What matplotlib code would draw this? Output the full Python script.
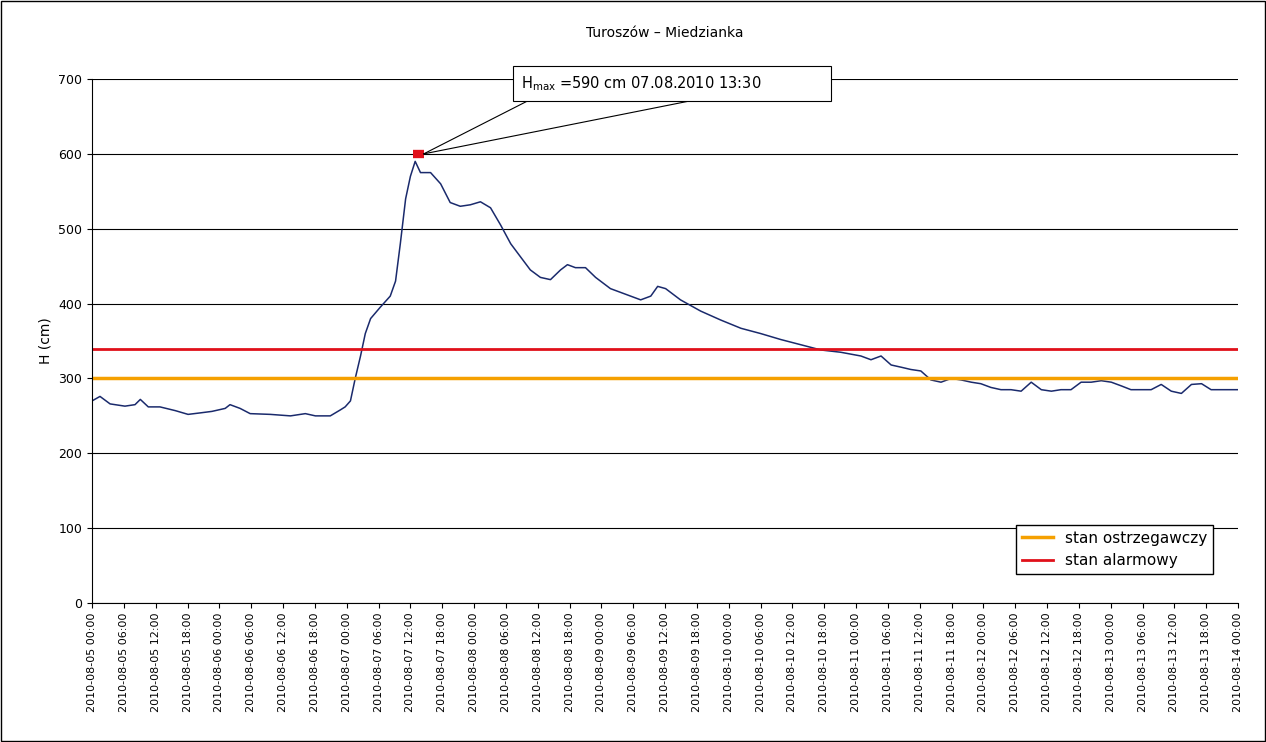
import numpy as np
import matplotlib.pyplot as plt
from datetime import datetime, timedelta

# hours since 2010-08-05 00:00 and water level H (cm)
hours = [0, 1.5, 3.4, 6.2, 8.1, 9.1, 10.6, 12.8, 15.7, 18.1, 20.4, 22.6, 25.1, 26.0, 27.9,
         29.8, 33.6, 37.4, 40.2, 42.1, 44.9, 46.8, 47.7, 48.7, 49.6, 50.6, 51.5, 52.5, 54.3,
         56.2, 57.2, 58.1, 59.1, 60.0, 60.9, 61.9, 63.8, 65.7, 67.5, 69.4, 71.3, 73.2, 75.1,
         77.0, 78.9, 80.8, 82.6, 84.5, 86.4, 88.3, 89.6, 91.1, 93.0, 94.9, 97.7, 99.6, 101.5,
         103.4, 105.3, 106.6, 108.1, 110.9, 114.7, 118.5, 122.3, 126.0, 129.8, 133.6, 137.4,
         141.1, 144.9, 146.8, 148.7, 150.6, 152.5, 154.3, 156.2, 158.1, 160.0, 161.9, 163.8,
         165.7, 167.5, 169.4, 171.3, 173.2, 175.1, 177.0, 178.9, 180.8, 182.6, 184.5, 186.4,
         188.3, 190.2, 192.1, 194.0, 195.8, 197.7, 199.6, 201.5, 203.4, 205.3, 207.2, 209.1,
         210.9, 212.8, 216]
level = [270, 276, 266, 263, 265, 272, 262, 262, 257, 252, 254, 256, 260, 265, 260,
         253, 252, 250, 253, 250, 250, 258, 262, 270, 300, 330, 360, 380, 395,
         410, 430, 480, 540, 570, 590, 575, 575, 560, 535, 530, 532, 536, 528,
         505, 480, 462, 445, 435, 432, 445, 452, 448, 448, 435, 420, 415, 410,
         405, 410, 423, 420, 405, 390, 378, 367, 360, 352, 345, 338,
         335, 330, 325, 330, 318, 315, 312, 310, 298, 295, 300, 298,
         295, 293, 288, 285, 285, 283, 295, 285, 283, 285, 285, 295,
         295, 297, 295, 290, 285, 285, 285, 292, 283, 280, 292, 293,
         285, 285, 285]
warn_level = 300
alarm_level = 340
peak_hour = 61.5
peak_value = 600

start = datetime(2010, 8, 5)
tick_hours = list(range(0, 217, 6))
tick_labels = [(start + timedelta(hours=h)).strftime('%Y-%m-%d %H:%M') for h in tick_hours]

fig = plt.figure(figsize=(12.66, 7.42), dpi=100)
fig.patches.append(plt.Rectangle((0.001, 0.001), 0.998, 0.998, transform=fig.transFigure,
                                 fill=False, edgecolor='black', linewidth=1))
ax = fig.add_axes([0.0727, 0.1873, 0.9053, 0.7062])

ax.plot(hours, level, color='#1a2a6c', linewidth=1.1)
ax.axhline(warn_level, color='#f5a000', linewidth=2.5, label='stan ostrzegawczy')
ax.axhline(alarm_level, color='#e0101a', linewidth=2, label='stan alarmowy')
ax.plot([peak_hour - 1.0, peak_hour + 1.0], [peak_value, peak_value], color='#e0101a',
        linewidth=6, solid_capstyle='butt')

# callout
ax.plot([peak_hour + 1, 83], [peak_value, 674], color='black', linewidth=0.8, clip_on=False)
ax.plot([peak_hour + 1, 115], [peak_value, 674], color='black', linewidth=0.8, clip_on=False)
ax.text(80.8, 694, r'H$_{\mathrm{max}}$ =590 cm 07.08.2010 13:30' + ' ' * 14, fontsize=10.5,
        va='center', ha='left',
        bbox=dict(boxstyle='square,pad=0.55', facecolor='white', edgecolor='black', linewidth=0.8),
        clip_on=False)

ax.set_xlim(0, 216)
ax.set_ylim(0, 700)
ax.set_yticks(range(0, 701, 100))
ax.set_xticks(tick_hours)
ax.set_xticklabels(tick_labels, rotation=90, fontsize=8)
ax.tick_params(axis='y', labelsize=9)
ax.yaxis.grid(True, color='black', linewidth=0.8)
ax.set_axisbelow(True)
ax.set_ylabel('H (cm)', fontsize=10)
ax.set_title('Turoszów – Miedzianka', fontsize=10, pad=30)
for s in ['top', 'right']:
    ax.spines[s].set_visible(False)

ax.legend(loc='lower right', bbox_to_anchor=(0.985, 0.04), fontsize=11, frameon=True,
          fancybox=False, edgecolor='black', framealpha=1, handlelength=2)

fig.savefig('out.png', dpi=100)
